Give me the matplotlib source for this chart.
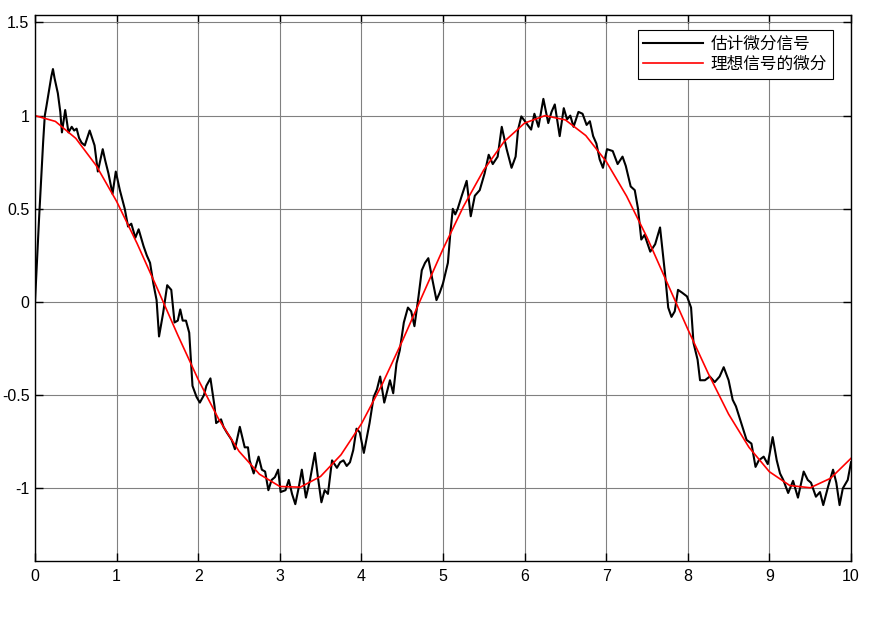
import matplotlib.pyplot as plt

plt.rcParams['font.family'] = ['Liberation Sans', 'DejaVu Sans']

# estimated derivative (noisy)
t_est = [0.00, 0.05, 0.10, 0.12, 0.14, 0.20, 0.22, 0.24, 0.28, 0.31, 0.33, 0.37, 0.41, 0.45,
         0.48, 0.51, 0.54, 0.57, 0.61, 0.67, 0.70, 0.73, 0.77, 0.83, 0.86, 0.90, 0.95, 0.99,
         1.04, 1.10, 1.14, 1.18, 1.23, 1.27, 1.33, 1.37, 1.41, 1.45, 1.49, 1.52, 1.57, 1.62,
         1.67, 1.71, 1.75, 1.78, 1.81, 1.85, 1.89, 1.93, 1.98, 2.02, 2.07, 2.10, 2.15, 2.20,
         2.22, 2.28, 2.31, 2.35, 2.41, 2.45, 2.51, 2.57, 2.61, 2.63, 2.68, 2.74, 2.78, 2.82,
         2.86, 2.90, 2.94, 2.98, 3.01, 3.07, 3.11, 3.15, 3.19, 3.23, 3.27, 3.32, 3.37, 3.43,
         3.47, 3.51, 3.55, 3.59, 3.64, 3.70, 3.74, 3.78, 3.82, 3.86, 3.90, 3.94, 3.98, 4.03,
         4.07, 4.10, 4.15, 4.19, 4.23, 4.28, 4.35, 4.39, 4.43, 4.47, 4.49, 4.52, 4.57, 4.61,
         4.65, 4.70, 4.74, 4.78, 4.82, 4.87, 4.92, 4.96, 5.00, 5.06, 5.09, 5.12, 5.15, 5.18,
         5.23, 5.29, 5.34, 5.39, 5.45, 5.51, 5.56, 5.61, 5.67, 5.72, 5.78, 5.84, 5.89, 5.92,
         5.96, 6.02, 6.08, 6.12, 6.17, 6.23, 6.29, 6.33, 6.37, 6.43, 6.48, 6.52, 6.56, 6.60,
         6.66, 6.71, 6.76, 6.80, 6.84, 6.88, 6.92, 6.96, 7.01, 7.08, 7.14, 7.20, 7.24, 7.27,
         7.30, 7.35, 7.39, 7.43, 7.47, 7.54, 7.60, 7.66, 7.72, 7.76, 7.80, 7.84, 7.88, 7.93,
         7.99, 8.04, 8.07, 8.12, 8.15, 8.21, 8.27, 8.33, 8.39, 8.44, 8.50, 8.55, 8.59, 8.63,
         8.67, 8.72, 8.78, 8.83, 8.87, 8.93, 8.98, 9.04, 9.09, 9.13, 9.17, 9.23, 9.29, 9.35,
         9.42, 9.47, 9.51, 9.57, 9.62, 9.66, 9.72, 9.78, 9.82, 9.86, 9.90, 9.96, 10.00]
y_est = [0.00, 0.45, 0.86, 1.00, 1.05, 1.21, 1.25, 1.20, 1.12, 1.02, 0.91, 1.03, 0.91, 0.94,
         0.92, 0.93, 0.88, 0.855, 0.84, 0.92, 0.88, 0.84, 0.70, 0.82, 0.76, 0.69, 0.58, 0.70,
         0.60, 0.50, 0.405, 0.42, 0.345, 0.39, 0.30, 0.25, 0.21, 0.10, 0.01, -0.185, -0.06, 0.09,
         0.065, -0.11, -0.10, -0.04, -0.10, -0.10, -0.165, -0.45, -0.51, -0.54, -0.50, -0.45, -0.41, -0.56,
         -0.65, -0.63, -0.67, -0.70, -0.74, -0.79, -0.67, -0.78, -0.78, -0.85, -0.92, -0.83, -0.90, -0.91,
         -1.01, -0.955, -0.94, -0.90, -1.02, -1.01, -0.955, -1.03, -1.085, -1.00, -0.90, -1.05, -0.955, -0.81,
         -0.95, -1.075, -1.01, -1.03, -0.85, -0.89, -0.86, -0.85, -0.88, -0.86, -0.795, -0.68, -0.70, -0.81,
         -0.72, -0.65, -0.51, -0.47, -0.40, -0.54, -0.42, -0.49, -0.33, -0.26, -0.20, -0.11, -0.03, -0.05,
         -0.13, 0.03, 0.17, 0.21, 0.235, 0.12, 0.01, 0.05, 0.10, 0.21, 0.37, 0.50, 0.47, 0.50,
         0.57, 0.65, 0.46, 0.57, 0.60, 0.69, 0.79, 0.74, 0.78, 0.94, 0.82, 0.72, 0.78, 0.925,
         0.996, 0.96, 0.925, 1.01, 0.94, 1.09, 0.96, 1.02, 1.06, 0.89, 1.04, 0.98, 1.00, 0.94,
         1.02, 1.01, 0.95, 0.97, 0.89, 0.85, 0.765, 0.72, 0.82, 0.81, 0.74, 0.78, 0.73, 0.675,
         0.62, 0.60, 0.50, 0.335, 0.36, 0.27, 0.31, 0.40, 0.155, -0.03, -0.08, -0.05, 0.065, 0.05,
         0.03, -0.03, -0.22, -0.31, -0.42, -0.42, -0.40, -0.43, -0.40, -0.35, -0.42, -0.525, -0.56, -0.615,
         -0.67, -0.74, -0.76, -0.885, -0.85, -0.83, -0.87, -0.725, -0.85, -0.92, -0.955, -1.025, -0.96, -1.05,
         -0.91, -0.955, -0.97, -1.045, -1.02, -1.09, -0.99, -0.90, -0.97, -1.09, -1.00, -0.955, -0.86]

# ideal derivative
t_ref = [0.00, 0.00, 0.25, 0.50, 0.75, 1.00, 1.25, 1.50, 1.75, 2.00, 2.25, 2.50, 2.75, 3.00,
         3.25, 3.50, 3.75, 4.00, 4.25, 4.50, 4.75, 5.00, 5.25, 5.50, 5.75, 6.00, 6.25, 6.50,
         6.75, 7.00, 7.25, 7.50, 7.75, 8.00, 8.25, 8.50, 8.75, 9.00, 9.25, 9.50, 9.75, 10.00]
y_ref = [0.000, 1.000, 0.969, 0.878, 0.732, 0.540, 0.315, 0.071, -0.178, -0.416, -0.628, -0.801,
         -0.924, -0.990, -0.994, -0.936, -0.820, -0.654, -0.446, -0.211, 0.037, 0.284, 0.512, 0.709,
         0.861, 0.960, 1.000, 0.977, 0.893, 0.754, 0.568, 0.347, 0.100, -0.146, -0.383, -0.602,
         -0.780, -0.911, -0.985, -0.997, -0.946, -0.839]

fig = plt.figure(figsize=(8.75, 6.19), dpi=100)
ax = fig.add_axes([35 / 875, 58 / 619, 816 / 875, 546 / 619])

ax.plot(t_est, y_est, color='black', linewidth=1.5, label='估计微分信号')
ax.plot(t_ref, y_ref, color='red', linewidth=1.2, label='理想信号的微分')

ax.set_xlim(0, 10)
ax.set_ylim(-1.39, 1.54)
ax.set_xticks(range(0, 11))
ax.set_yticks([-1, -0.5, 0, 0.5, 1, 1.5])
ax.set_yticklabels(['-1', '-0.5', '0', '0.5', '1', '1.5'])
ax.tick_params(direction='in', length=6, width=1, top=True, right=True, labelsize=11.5)
ax.tick_params(axis='x', pad=6)
ax.tick_params(axis='y', pad=4)
for s in ax.spines.values():
    s.set_linewidth(1)

ax.grid(True, color='#808080', linewidth=0.8)
ax.set_axisbelow(True)

leg = ax.legend(loc='upper right', bbox_to_anchor=(0.978, 0.9725), borderaxespad=0,
                fancybox=False, edgecolor='black', framealpha=1, handlelength=3.6,
                handletextpad=0.45,
                prop={'family': ['Noto Sans CJK SC', 'DejaVu Sans'], 'size': 12},
                borderpad=0.35, labelspacing=0.2)
leg.get_frame().set_linewidth(0.8)

fig.savefig('out.png', dpi=100)
